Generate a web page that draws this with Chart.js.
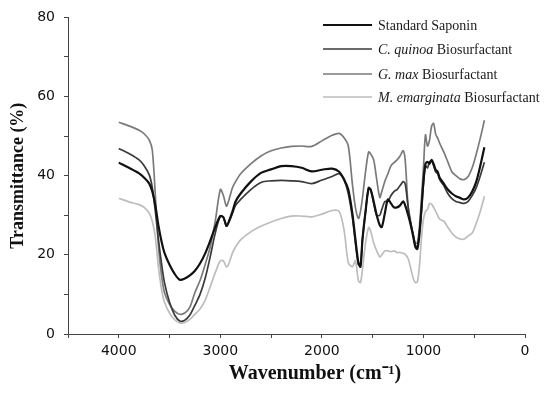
<!DOCTYPE html>
<html>
<head>
<meta charset="utf-8">
<script src="https://cdn.jsdelivr.net/npm/chart.js@4.4.1/dist/chart.umd.min.js"></script>
<style>
  html, body { margin: 0; padding: 0; background: #fff; }
  #wrap { width: 550px; height: 396px; position: relative; }
</style>
</head>
<body>
<div id="wrap"><canvas id="c" width="550" height="396"></canvas></div>
<script>
// Wavenumbers (cm-1) at which the spectra were read
const wavenumbers = [4000, 3900, 3800, 3750, 3700, 3670, 3640, 3610, 3580, 3550, 3500, 3450, 3400, 3350, 3300, 3250, 3200, 3150, 3100, 3050, 3000, 2970, 2940, 2920, 2880, 2850, 2800, 2700, 2600, 2500, 2400, 2300, 2200, 2100, 2000, 1900, 1830, 1780, 1740, 1700, 1670, 1640, 1620, 1600, 1570, 1540, 1520, 1490, 1460, 1430, 1410, 1380, 1350, 1320, 1290, 1260, 1230, 1200, 1180, 1150, 1120, 1100, 1080, 1060, 1040, 1020, 1000, 980, 960, 940, 920, 900, 880, 860, 840, 800, 760, 720, 680, 640, 600, 560, 520, 480, 440, 400];

// Transmittance (%)
const standardSaponin = [43.3, 42.0, 40.6, 39.5, 38.0, 36.0, 32.5, 27.5, 23.5, 20.5, 17.5, 15.2, 13.7, 14.0, 14.8, 16.0, 17.8, 20.3, 23.5, 27.0, 29.8, 29.5, 27.3, 28.2, 31.0, 33.5, 35.5, 38.5, 40.7, 41.6, 42.4, 42.4, 42.0, 41.1, 41.5, 41.8, 41.0, 39.0, 36.5, 30.5, 24.0, 18.0, 17.0, 24.0, 31.0, 36.8, 36.5, 33.5, 30.0, 27.5, 27.0, 30.5, 34.0, 33.0, 32.0, 32.0, 32.5, 33.5, 32.5, 30.0, 27.0, 24.5, 22.0, 21.5, 25.0, 31.5, 38.5, 43.0, 43.5, 43.0, 44.0, 43.0, 41.5, 41.0, 39.5, 38.0, 36.5, 35.5, 34.8, 34.4, 34.0, 34.5, 36.0, 38.5, 42.5, 47.2];
const cQuinoa = [46.9, 45.6, 44.0, 42.5, 40.2, 37.0, 31.0, 24.0, 18.0, 13.0, 8.0, 4.8, 3.3, 3.5, 4.8, 7.3, 10.0, 14.0, 19.5, 25.5, 29.8, 29.5, 27.3, 28.0, 30.5, 32.5, 34.0, 36.5, 38.3, 38.7, 38.8, 38.7, 38.5, 38.0, 38.9, 39.8, 40.5, 38.8, 35.5, 29.5, 23.0, 17.5, 17.5, 24.0, 31.0, 37.0, 36.5, 33.0, 30.0, 30.0, 31.5, 33.5, 33.5, 35.0, 36.0, 36.5, 37.5, 38.5, 38.0, 32.0, 27.5, 25.0, 22.5, 22.0, 25.5, 31.0, 38.0, 42.5, 42.0, 43.5, 43.8, 42.5, 41.0, 40.5, 39.0, 37.5, 35.5, 34.2, 33.5, 33.2, 33.0, 33.5, 35.0, 37.0, 40.0, 43.4];
const gMax = [53.5, 52.6, 51.5, 50.6, 49.0, 46.5, 35.0, 22.5, 15.0, 10.5, 7.5, 5.8, 5.0, 5.3, 6.8, 10.5, 13.5, 17.5, 22.0, 28.5, 36.5, 35.0, 32.3, 33.5, 37.0, 38.5, 40.5, 43.0, 45.0, 46.3, 47.0, 47.4, 47.5, 47.4, 48.8, 50.2, 50.7, 49.5, 47.5, 38.0, 32.0, 29.2, 31.0, 34.5, 41.0, 46.0, 45.5, 44.0, 39.0, 34.5, 36.0, 38.6, 40.5, 42.5, 43.3, 44.0, 45.0, 46.3, 44.0, 32.0, 27.0, 25.0, 23.0, 23.0, 27.0, 34.0, 42.0, 50.3, 47.5, 49.0, 52.5, 53.2, 50.5, 49.5, 48.2, 46.0, 43.5, 41.0, 40.0, 39.2, 39.0, 39.8, 42.0, 45.5, 49.5, 54.0];
const mEmarginata = [34.3, 33.4, 32.7, 32.0, 30.5, 28.5, 24.5, 17.0, 11.5, 8.0, 5.3, 3.6, 2.8, 2.9, 3.7, 5.0, 6.3, 8.5, 11.9, 15.5, 18.5, 18.5, 17.0, 17.5, 20.5, 22.0, 23.8, 25.8, 27.2, 28.3, 29.2, 29.8, 29.8, 29.6, 30.3, 31.2, 31.0, 26.0, 18.0, 17.0, 18.5, 13.5, 13.0, 16.5, 23.0, 26.9, 26.0, 23.0, 21.0, 19.5, 20.0, 21.0, 21.0, 20.8, 21.0, 20.6, 20.6, 20.4, 20.2, 19.0, 16.0, 14.0, 13.0, 13.2, 17.0, 24.0, 29.0, 31.0, 31.5, 33.0, 32.8, 32.0, 31.0, 30.0, 29.0, 28.5, 27.0, 25.5, 24.5, 24.0, 24.0, 24.8, 25.5, 28.0, 31.0, 34.8];

// Legend labels: [italic part, regular part]
const seriesLabels = [
  ['', 'Standard Saponin'],
  ['C. quinoa', ' Biosurfactant'],
  ['G. max', ' Biosurfactant'],
  ['M. emarginata', ' Biosurfactant']
];
const seriesColors = ['#111111', '#3a3a3a', '#7a7a7a', '#bdbdbd'];
const seriesWidths = [2.2, 1.7, 1.7, 1.7];
const seriesValues = [standardSaponin, cQuinoa, gMax, mEmarginata];

const xTitle = 'Wavenumber (cm\u207B\u00B9)';
const yTitle = 'Transmittance (%)';

const datasets = seriesValues.map((vals, i) => ({
  label: seriesLabels[i].join(''),
  data: wavenumbers.map((w, j) => ({ x: w, y: vals[j] })),
  borderColor: seriesColors[i],
  backgroundColor: seriesColors[i],
  borderWidth: seriesWidths[i],
  pointRadius: 0,
  tension: 0.3,
  fill: false
}));

const customDecor = {
  id: 'customDecor',
  afterDraw(chart) {
    const ctx = chart.ctx;
    ctx.save();
    // Legend
    const x0 = 323, x1 = 372, tx = 378;
    const ys = [25, 49, 74, 97];
    chart.data.datasets.forEach((ds, i) => {
      const y = ys[i];
      ctx.strokeStyle = ds.borderColor;
      ctx.lineWidth = ds.borderWidth;
      ctx.beginPath();
      ctx.moveTo(x0, y);
      ctx.lineTo(x1, y);
      ctx.stroke();
      ctx.fillStyle = '#1a1a1a';
      ctx.textBaseline = 'middle';
      ctx.textAlign = 'left';
      let x = tx;
      const [it, reg] = seriesLabels[i];
      if (it) {
        ctx.font = 'italic 14px "Liberation Serif"';
        ctx.fillText(it, x, y + 1);
        x += ctx.measureText(it).width;
      }
      ctx.font = '14px "Liberation Serif"';
      ctx.fillText(reg, x, y + 1);
    });
    // X axis title
    ctx.font = 'bold 20px "Liberation Serif"';
    ctx.fillStyle = '#111';
    ctx.textAlign = 'center';
    ctx.textBaseline = 'alphabetic';
    ctx.fillText(xTitle, 315, 379);
    ctx.restore();
  }
};

new Chart(document.getElementById('c'), {
  type: 'line',
  data: { datasets },
  options: {
    responsive: false,
    animation: false,
    layout: { padding: { top: 15, right: 25, left: 0, bottom: 0 } },
    plugins: { legend: { display: false }, tooltip: { enabled: false } },
    scales: {
      x: {
        type: 'linear',
        reverse: true,
        min: 0,
        max: 4500,
        afterFit(s) { s.height = 62; },
        border: { display: true, color: '#444', width: 1 },
        grid: { display: true, drawOnChartArea: false, drawTicks: true, tickLength: 4, color: '#444' },
        ticks: {
          stepSize: 500,
          autoSkip: false,
          maxRotation: 0,
          padding: 5,
          color: '#111',
          font: { family: '"DejaVu Sans"', size: 14 },
          callback: v => (v % 1000 === 0 ? String(v) : '')
        },
        title: { display: false }
      },
      y: {
        min: 0,
        max: 80,
        afterFit(s) { s.width = 68; },
        border: { display: true, color: '#444', width: 1 },
        grid: { display: true, drawOnChartArea: false, drawTicks: true, tickLength: 4, color: '#444' },
        ticks: {
          stepSize: 10,
          autoSkip: false,
          padding: 9,
          color: '#111',
          font: { family: '"DejaVu Sans"', size: 14 },
          callback: v => (v % 20 === 0 ? String(v) : '')
        },
        title: {
          display: true,
          text: yTitle,
          color: '#111',
          font: { family: '"Liberation Serif"', size: 18, weight: 'bold' },
          padding: { top: 8, bottom: 0 }
        }
      }
    }
  },
  plugins: [customDecor]
});
</script>
</body>
</html>
